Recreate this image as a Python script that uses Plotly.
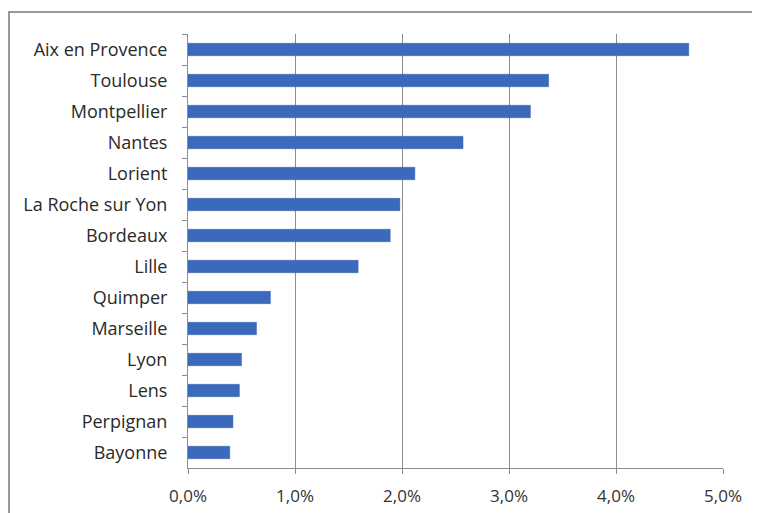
import plotly.graph_objects as go

cities = ["Aix en Provence", "Toulouse", "Montpellier", "Nantes", "Lorient",
          "La Roche sur Yon", "Bordeaux", "Lille", "Quimper", "Marseille",
          "Lyon", "Lens", "Perpignan", "Bayonne"]
shares = [0.0468, 0.0337, 0.0320, 0.0257, 0.0212, 0.0198, 0.0189, 0.0159,
          0.0077, 0.0064, 0.0050, 0.0048, 0.0042, 0.0039]
x_ticks = [0, 0.01, 0.02, 0.03, 0.04, 0.05]

fig = go.Figure(go.Bar(
    x=shares, y=cities, orientation="h",
    marker=dict(color="#3b69bc", line=dict(color="#3560b0", width=0.5)),
    width=0.4,
))

fig.update_layout(
    width=752, height=505,
    margin=dict(l=180, r=37, t=26, b=45, autoexpand=False),
    paper_bgcolor="white", plot_bgcolor="white",
    separators=", ",
    showlegend=False,
    font=dict(family="Open Sans", size=17, color="#2a2a2a"),
    shapes=[dict(type="rect", xref="paper", yref="paper",
                 x0=-0.3346, x1=1.0654, y0=-0.25, y1=1.0507,
                 line=dict(color="#9a9a9a", width=2), fillcolor="rgba(0,0,0,0)",
                 layer="below")],
)
fig.update_xaxes(range=[0, 0.05], tickvals=x_ticks, tickformat=".1%",
                 showgrid=True, gridcolor="#8c8c8c", gridwidth=1,
                 showline=True, linecolor="#8c8c8c", ticks="outside",
                 tickcolor="#8c8c8c", ticklen=5, zeroline=False,
                 ticklabelstandoff=8, automargin=False,
                 tickfont=dict(size=17, color="#333"))
fig.update_yaxes(autorange="reversed", showline=True, linecolor="#8c8c8c",
                 ticks="outside", tickson="boundaries", ticklen=5,
                 tickcolor="#8c8c8c", ticklabelstandoff=16, automargin=False,
                 tickfont=dict(size=18, color="#2a2a2a"))

fig.write_html("out.html")
